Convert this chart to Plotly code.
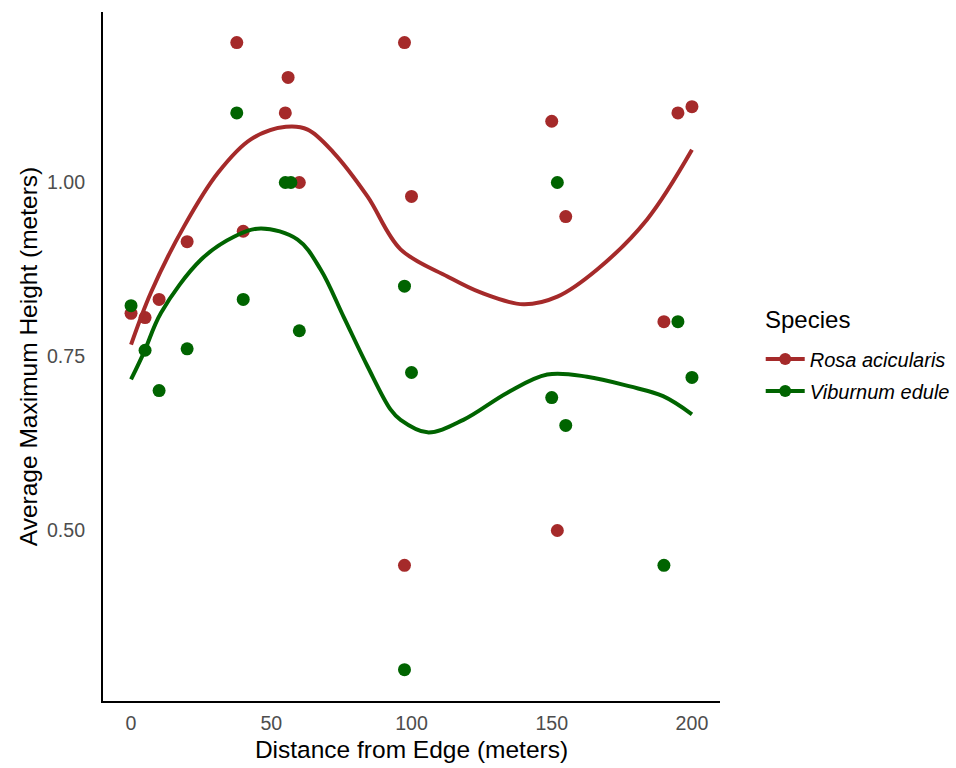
import plotly.graph_objects as go

# Observed points
rosa_x = [0, 5, 10, 20, 37.7, 40, 55, 56, 60, 97.5, 100, 97.5, 150, 152, 155, 190, 195, 200]
rosa_y = [0.812, 0.806, 0.832, 0.915, 1.201, 0.930, 1.100, 1.151, 1.000, 1.201, 0.980, 0.450, 1.088, 0.500, 0.951, 0.800, 1.100, 1.109]

vib_x = [0, 5, 10, 20, 37.7, 40, 55, 57, 60, 97.5, 100, 97.5, 150, 152, 155, 190, 195, 200]
vib_y = [0.823, 0.759, 0.701, 0.761, 1.100, 0.832, 1.000, 1.000, 0.787, 0.851, 0.727, 0.300, 0.691, 1.000, 0.651, 0.450, 0.800, 0.720]

# Smoothed (loess) curves
rosa_sx = [0, 7.1, 18.9, 31, 42.7, 55.2, 63, 72.2, 84.3, 96.1, 112.8, 124.6, 139.9, 152, 166.2, 184, 200]
rosa_sy = [0.767, 0.842, 0.937, 1.014, 1.062, 1.080, 1.076, 1.043, 0.980, 0.904, 0.865, 0.842, 0.825, 0.836, 0.875, 0.947, 1.047]

vib_sx = [0, 4.6, 10.7, 24.9, 36.7, 46.3, 59.4, 67.6, 75.8, 84.3, 92.5, 96.1, 105.7, 118.5, 134.2, 148.4, 162.6, 177.9, 189.7, 200]
vib_sy = [0.717, 0.756, 0.813, 0.889, 0.922, 0.934, 0.918, 0.875, 0.807, 0.736, 0.674, 0.659, 0.641, 0.659, 0.698, 0.724, 0.721, 0.707, 0.693, 0.667]

species = ["Rosa acicularis", "Viburnum edule"]
colors = ["#A52A2A", "#006400"]
legend_title = "Species"

x_ticks = [0, 50, 100, 150, 200]
y_ticks = [0.50, 0.75, 1.00]
y_tick_text = ["0.50", "0.75", "1.00"]

FONT = "Liberation Sans, Arial, sans-serif"

fig = go.Figure()

for xs, ys, col in [(rosa_x, rosa_y, colors[0]), (vib_x, vib_y, colors[1])]:
    fig.add_trace(go.Scatter(x=xs, y=ys, mode="markers", showlegend=False,
                             marker=dict(color=col, size=13, line=dict(width=0)),
                             hoverinfo="x+y"))

for xs, ys, col in [(rosa_sx, rosa_sy, colors[0]), (vib_sx, vib_sy, colors[1])]:
    fig.add_trace(go.Scatter(x=xs, y=ys, mode="lines", showlegend=False,
                             line=dict(color=col, width=4, shape="spline", smoothing=1.0)))

for i, (name, col) in enumerate(zip(species, colors)):
    fig.add_trace(go.Scatter(x=[None], y=[None], mode="lines+markers",
                             name="<i>" + name + "</i>", legendgroup=str(i),
                             line=dict(color=col, width=4),
                             marker=dict(color=col, size=12)))

fig.add_annotation(text=legend_title, xref="paper", yref="paper",
                   x=1.0697, y=0.553, xanchor="left", yanchor="middle",
                   showarrow=False, font=dict(size=24, color="black"))

fig.update_layout(
    width=956, height=768,
    margin=dict(l=103, r=236, t=12, b=67, autoexpand=False),
    paper_bgcolor="white", plot_bgcolor="white",
    font=dict(family=FONT, color="black"),
    showlegend=True,
    legend=dict(
        font=dict(size=20, color="black"),
        x=1.066, xanchor="left", y=0.473, yanchor="middle",
        tracegroupgap=3, itemwidth=39,
        bgcolor="rgba(0,0,0,0)",
    ),
    xaxis=dict(
        range=[-10, 210], tickvals=x_ticks, ticks="", showgrid=False, zeroline=False,
        showline=True, linecolor="black", linewidth=2, automargin=False,
        tickfont=dict(size=19.6, color="#4d4d4d"), ticklabelstandoff=3,
        title=dict(text="Distance from Edge (meters)", font=dict(size=24.5, color="black"), standoff=8),
    ),
    yaxis=dict(
        range=[0.255, 1.245], tickvals=y_ticks, ticktext=y_tick_text, ticks="", showgrid=False,
        zeroline=False, showline=True, linecolor="black", linewidth=2, automargin=False,
        tickfont=dict(size=19.6, color="#4d4d4d"), ticklabelstandoff=12,
        title=dict(text="Average Maximum Height (meters)", font=dict(size=24.5, color="black"), standoff=2),
    ),
)

fig.write_html("out.html")
